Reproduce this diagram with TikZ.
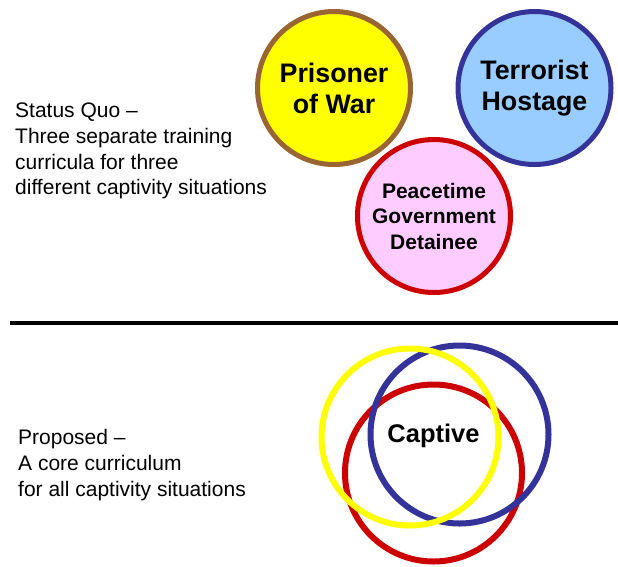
\documentclass[tikz,border=0pt]{standalone}
\usepackage{fontspec}
\setmainfont{Liberation Sans}
\definecolor{cyellow}{HTML}{FFFF00}
\definecolor{cbrown}{HTML}{996633}
\definecolor{clblue}{HTML}{99CCFF}
\definecolor{cdblue}{HTML}{333399}
\definecolor{cred}{HTML}{CC0000}
\definecolor{cpink}{HTML}{FFCCFF}
\begin{document}
\begin{tikzpicture}[x=1pt,y=-1pt,
  topcirc/.style={circle,line width=5pt,minimum size=153pt,inner sep=0pt,align=center},
  botcirc/.style={circle,line width=6pt,minimum size=177pt,inner sep=0pt},
  bigbold/.style={font=\fontsize{26.8}{31}\selectfont\bfseries,align=center},
  capbold/.style={font=\fontsize{25.5}{30.5}\selectfont\bfseries,align=center},
  midbold/.style={font=\fontsize{21}{25.5}\selectfont\bfseries,align=center},
  plain/.style={font=\fontsize{21}{25.8}\selectfont,anchor=base west,inner sep=0pt}]
\useasboundingbox (0,0) rectangle (618,566);
% top circles
\node[topcirc,draw=cbrown,fill=cyellow,bigbold] (pow) at (334,88) {Prisoner\\of War};
\node[topcirc,draw=cdblue,fill=clblue,bigbold] (th) at (534.5,88) {Terrorist\\Hostage};
\node[topcirc,draw=cred,fill=cpink,midbold] (pgd) at (434,216) {Peacetime\\Government\\Detainee};
% left texts
\node[plain] (sq1) at (15,117.5) {Status Quo --};
\node[plain] (sq2) at (15,143.3) {Three separate training};
\node[plain] (sq3) at (15,169.1) {curricula for three};
\node[plain] (sq4) at (15,194.9) {different captivity situations};
\node[plain] (pr1) at (18,444.5) {Proposed --};
\node[plain] (pr2) at (18,470.3) {A core curriculum};
\node[plain] (pr3) at (18,496.1) {for all captivity situations};
% separator
\coordinate (l1) at (10,323);
\coordinate (l2) at (618,323);
\draw[line width=4pt] (l1) -- (l2);
% bottom circles
\node[botcirc,draw=cred] (cr) at (433.5,473) {};
\node[botcirc,draw=cdblue,minimum size=178pt] (cb) at (459.5,434.5) {};
\node[botcirc,draw=cyellow] (cy) at (410,437) {};
\node[capbold] (cap) at (433.5,436) {Captive};
\end{tikzpicture}
\end{document}
